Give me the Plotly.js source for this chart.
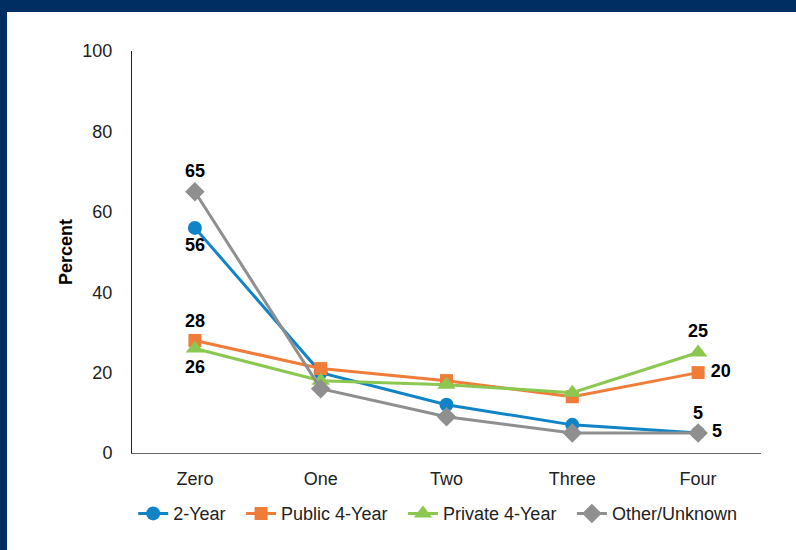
<!DOCTYPE html>
<html>
<head>
<meta charset="utf-8">
<script src="https://cdn.plot.ly/plotly-3.0.1.min.js"></script>
<style>
html,body{margin:0;padding:0;background:#fff;}
#chart{width:796px;height:550px;position:absolute;left:0;top:0;}
#bt{position:absolute;left:0;top:0;width:796px;height:12px;background:#002D62;}
#bl{position:absolute;left:0;top:0;width:7px;height:550px;background:#002D62;}
</style>
</head>
<body>
<div id="chart"></div>
<div id="bt"></div>
<div id="bl"></div>
<script>
const categories = ["Zero", "One", "Two", "Three", "Four"];
const twoYear = [56, 20, 12, 7, 5];
const public4 = [28, 21, 18, 14, 20];
const private4 = [26, 18, 17, 15, 25];
const otherUnknown = [65, 16, 9, 5, 5];
const yTicks = [0, 20, 40, 60, 80, 100];
const seriesNames = ["2-Year", "Public 4-Year", "Private 4-Year", "Other/Unknown"];

const font = "Liberation Sans, Arial, Helvetica, sans-serif";
const labelFont = {family: font, size: 18, color: "#000", weight: "bold"};
const legendPad = "\u2002\u200A";

function labels(vals, pos){
  return vals.map((v,i)=> (i===0 || i===vals.length-1) ? ((pos[i]==="middle right" ? "\u2009" : "") + v) : "");
}

function series(idx, vals, color, symbol, size, pos){
  const name = seriesNames[idx] + (idx < seriesNames.length - 1 ? legendPad : "");
  return {
    type: "scatter", mode: "lines+markers+text", name: name,
    x: categories, y: vals,
    text: labels(vals, pos), textposition: pos,
    textfont: labelFont,
    line: {color: color, width: 3},
    marker: {color: color, symbol: symbol, size: size},
    cliponaxis: false
  };
}

const data = [
  series(0, twoYear, "#1184C7", "circle", 14, ["bottom center","top center","top center","top center","top center"]),
  series(1, public4, "#F07C3A", "square", 13, ["top center","top center","top center","top center","middle right"]),
  series(2, private4, "#8CC850", "triangle-up", 16, ["bottom center","top center","top center","top center","top center"]),
  series(3, otherUnknown, "#8F8F8F", "diamond", 15, ["top center","top center","top center","top center","middle right"])
];

const layout = {
  width: 796, height: 550,
  margin: {l: 132, r: 35, t: 51, b: 97},
  paper_bgcolor: "#fff", plot_bgcolor: "#fff",
  font: {family: font, size: 18, color: "#222"},
  showlegend: true,
  legend: {orientation: "h", x: 0.486, xanchor: "center", y: -0.105, yanchor: "top",
           font: {family: font, size: 18, color: "#222"}, traceorder: "normal", itemwidth: 30},
  xaxis: {
    type: "category", range: [-0.5, 4.5], showgrid: false, zeroline: false,
    showline: true, linecolor: "#666", linewidth: 1,
    ticks: "outside", ticklen: 9, tickcolor: "rgba(0,0,0,0)",
    tickfont: {family: font, size: 18, color: "#222"}
  },
  yaxis: {
    range: [0, 100], tickvals: yTicks, showgrid: false, zeroline: false,
    showline: true, linecolor: "#222", linewidth: 1,
    ticks: "outside", ticklen: 15, tickcolor: "rgba(0,0,0,0)",
    tickfont: {family: font, size: 18, color: "#222"},
    title: {text: "<b>Percent</b>", font: {family: font, size: 18, color: "#000"}, standoff: 5}
  }
};

Plotly.newPlot("chart", data, layout, {displayModeBar: false, staticPlot: true});
</script>
</body>
</html>
